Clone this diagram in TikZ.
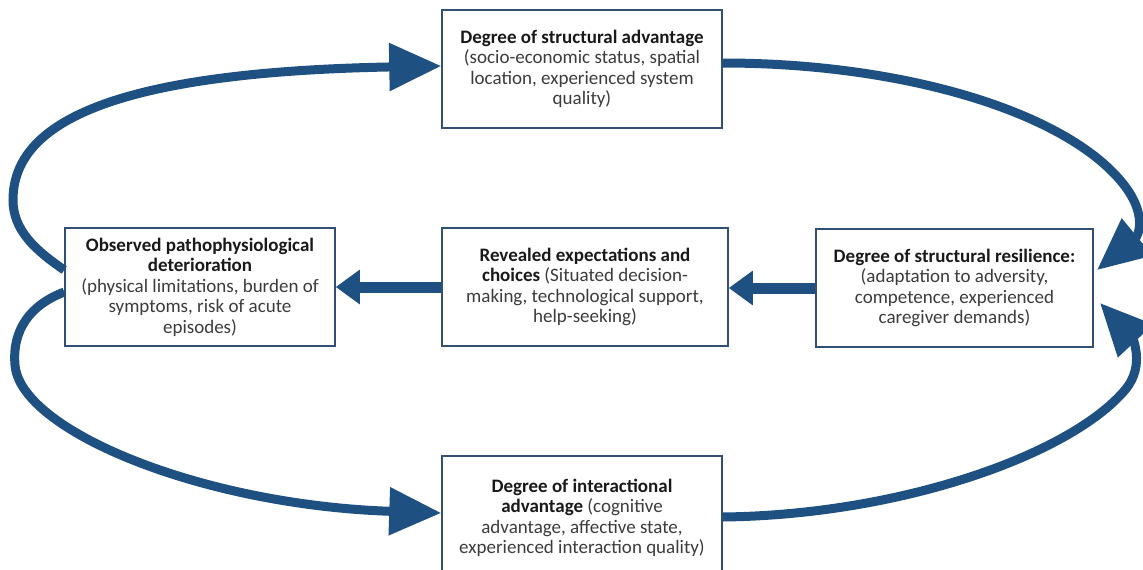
\documentclass[tikz,border=0pt]{standalone}
\usepackage{fontspec}
\setmainfont{Carlito}
\usetikzlibrary{arrows.meta}
\definecolor{arrowblue}{RGB}{30,80,130}
\definecolor{boxline}{RGB}{50,80,115}
\definecolor{bodytext}{RGB}{60,60,60}
\definecolor{headtext}{RGB}{25,25,25}
\tikzset{
  box/.style={draw=boxline, line width=1.5pt, fill=white, align=center,
    text=bodytext, font=\fontsize{19}{20.5}\selectfont, inner sep=2pt},
  loop/.style={draw=arrowblue, line width=9pt,
    -{Triangle[length=52pt,width=46pt]}},
  flow/.style={draw=arrowblue, line width=11pt,
    -{Triangle[length=24pt,width=33pt]}},
}
\newcommand{\hd}[1]{\textbf{\color{headtext}#1}}
\begin{document}
\begin{tikzpicture}[x=1pt,y=-1pt]
\clip (0,0) rectangle (1143,570);
\fill[white] (0,0) rectangle (1143,570);

\node[box, minimum width=280pt, minimum height=118pt] (T) at (582,69)
  {\hd{Degree of structural advantage}\\(socio-economic status, spatial\\location, experienced system\\quality)};
\node[box, minimum width=270pt, minimum height=118pt] (L) at (200,287)
  {\hd{Observed pathophysiological}\\\hd{deterioration}\\(physical limitations, burden of\\symptoms, risk of acute\\episodes)};
\node[box, minimum width=286pt, minimum height=118pt] (M) at (585,287)
  {\hd{Revealed expectations and}\\\hd{choices} (Situated decision-\\making, technological support,\\help-seeking)};
\node[box, minimum width=277pt, minimum height=118pt] (R) at (954.5,288)
  {\hd{Degree of structural resilience:}\\(adaptation to adversity,\\competence, experienced\\caregiver demands)};
\node[box, minimum width=280pt, minimum height=124pt] (B) at (582,518)
  {\hd{Degree of interactional}\\\hd{advantage} (cognitive\\advantage, affective state,\\experienced interaction quality)};

% coordinates on box edges
\coordinate (l1) at ([yshift=17pt]L.west);
\coordinate (t1) at ([yshift=3pt]T.west);
\coordinate (t2) at ([yshift=6pt]T.east);
\coordinate (r1) at (1097,270);
\coordinate (b1) at ([yshift=1pt]B.east);
\coordinate (r2) at (1100,303);
\coordinate (l2) at ([yshift=-5pt]L.west);
\coordinate (b2) at ([yshift=5pt]B.west);

% curved loop arrows
\draw[loop] (l1) .. controls (35,250) and (13,230) .. (13,200)
  .. controls (13,120) and (120,72) .. (t1);
\draw[loop] (t2) .. controls (900,63) and (1060,110) .. (1120,180)
  .. controls (1150,215) and (1137,237) .. (r1);
\draw[loop] (b1) .. controls (900,515) and (1070,455) .. (1125,390)
  .. controls (1147,364) and (1130,335) .. (r2);
\draw[loop] (l2) .. controls (30,305) and (12,330) .. (15,365)
  .. controls (20,430) and (200,505) .. (b2);

% straight arrows
\draw[flow] (R.west) -- (R.west -| M.east);
\draw[flow] (M.west) -- (M.west -| L.east);
\end{tikzpicture}
\end{document}
